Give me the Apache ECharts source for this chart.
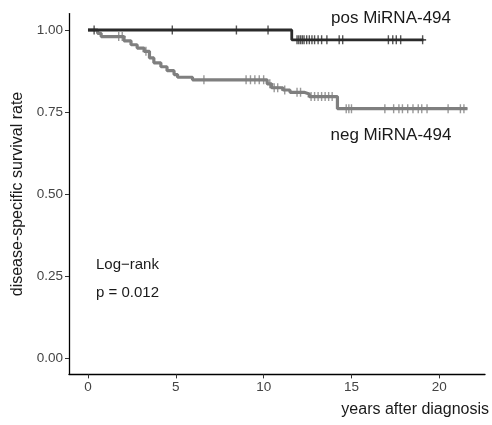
<!DOCTYPE html>
<html>
<head>
<meta charset="utf-8">
<script src="https://cdn.jsdelivr.net/npm/echarts@6/dist/echarts.min.js"></script>
<style>
  html, body { margin: 0; padding: 0; background: #fff; }
</style>
</head>
<body>
<div id="km" style="width: 492px;height: 425px;"></div>
<script>
// step curves (time in years, survival)
const posTime = [0, 11.6, 19.1]
const posSurv = [1.0, 0.97, 0.97]
const negTime = [0, 0.55, 0.75, 2.05, 2.45, 2.8, 3.2, 3.5, 3.75, 4.15, 4.5, 4.9, 5.1, 5.95, 10.2, 10.45, 11.1, 11.5, 12.3, 12.6, 14.2, 21.6]
const negSurv = [1.0, 0.99, 0.98, 0.967, 0.955, 0.945, 0.935, 0.915, 0.9, 0.888, 0.876, 0.864, 0.856, 0.848, 0.836, 0.824, 0.817, 0.81, 0.805, 0.797, 0.76, 0.76]
// censored times
const posCensor = [0.35, 4.8, 8.45, 10.25, 11.9, 12.0, 12.1, 12.2, 12.3, 12.45, 12.6, 12.75, 12.9, 13.1, 13.3, 13.6, 14.3, 14.5, 17.1, 17.35, 17.55, 17.8, 19.05]
const negCensor = [1.75, 1.95, 3.3, 6.6, 9.0, 9.25, 9.5, 9.75, 10.0, 10.35, 10.6, 10.8, 11.2, 11.9, 12.1, 12.7, 12.9, 13.1, 13.3, 13.5, 13.7, 13.9, 14.7, 14.85, 15.0, 16.9, 17.4, 17.7, 17.9, 18.2, 18.5, 18.8, 19.0, 19.3, 20.5, 21.2, 21.4]
const xTicks = [0, 5, 10, 15, 20]
const yTicks = [0, 0.25, 0.5, 0.75, 1]

function survAt (times, surv, t) {
  let s = surv[0]
  for (let i = 0; i < times.length; i++) {
    if (times[i] <= t) s = surv[i]
  }
  return s
}
function pairs (times, surv) {
  return times.map((t, i) => [t, surv[i]])
}
function censorPts (ct, times, surv) {
  return ct.map(t => [t, survAt(times, surv, t)])
}

const font = 'Liberation Sans, Arial, sans-serif'
const plus = 'path://M4,0h2v4h4v2h-4v4h-2v-4h-4v-2h4z'
const posColor = '#2b2b2b'
const negColor = '#7f7f7f'

let myChart = echarts.init(document.getElementById('km'))
var option = {
  animation: false,
  textStyle: { fontFamily: font },
  grid: { left: 69, right: 7, top: 13.6, bottom: 50.6, outerBoundsMode: 'none', containLabel: false },
  xAxis: {
    type: 'value',
    min: -1.08,
    max: 22.6,
    splitLine: { show: false },
    axisLine: { onZero: false, lineStyle: { color: '#000', width: 1.3 } },
    axisTick: { customValues: xTicks, length: 4, lineStyle: { color: '#333' } },
    axisLabel: { customValues: xTicks, color: '#444', fontSize: 13.5, margin: 6 }
  },
  yAxis: {
    type: 'value',
    min: -0.05,
    max: 1.05,
    name: 'disease-specific survival rate',
    nameLocation: 'middle',
    nameRotate: 90,
    nameGap: 41,
    nameTextStyle: { color: '#1a1a1a', fontSize: 16 },
    splitLine: { show: false },
    axisLine: { show: true, onZero: false, lineStyle: { color: '#000', width: 1.3 } },
    axisTick: { show: true, customValues: yTicks, length: 4, lineStyle: { color: '#333' } },
    axisLabel: {
      customValues: yTicks, color: '#444', fontSize: 13.5, margin: 6,
      formatter: v => v.toFixed(2)
    }
  },
  graphic: [
    { type: 'text', x: 391, y: 18, style: { text: 'pos MiRNA-494', font: '17px ' + font, fill: '#1a1a1a', align: 'center', verticalAlign: 'middle' } },
    { type: 'text', x: 391, y: 135, style: { text: 'neg MiRNA-494', font: '17px ' + font, fill: '#1a1a1a', align: 'center', verticalAlign: 'middle' } },
    { type: 'text', x: 96, y: 265, style: { text: 'Log\u2212rank', font: '15px ' + font, fill: '#1a1a1a', verticalAlign: 'middle' } },
    { type: 'text', x: 96, y: 293, style: { text: 'p = 0.012', font: '15px ' + font, fill: '#1a1a1a', verticalAlign: 'middle' } },
    { type: 'text', x: 489, y: 410, style: { text: 'years after diagnosis', font: '16px ' + font, fill: '#1a1a1a', align: 'right', verticalAlign: 'middle' } }
  ],
  series: [
    {
      name: 'neg MiRNA-494',
      type: 'line',
      step: 'end',
      data: pairs(negTime, negSurv),
      showSymbol: false,
      lineStyle: { color: negColor, width: 3.2 },
      z: 2
    },
    {
      name: 'neg censor',
      type: 'scatter',
      data: censorPts(negCensor, negTime, negSurv),
      symbol: plus,
      symbolSize: [7, 9],
      itemStyle: { color: negColor },
      z: 3
    },
    {
      name: 'pos MiRNA-494',
      type: 'line',
      step: 'end',
      data: pairs(posTime, posSurv),
      showSymbol: false,
      lineStyle: { color: posColor, width: 2.8 },
      z: 4
    },
    {
      name: 'pos censor',
      type: 'scatter',
      data: censorPts(posCensor, posTime, posSurv),
      symbol: plus,
      symbolSize: [7, 9],
      itemStyle: { color: posColor },
      z: 5
    }
  ]
}
myChart.setOption(option, true)
</script>
</body>
</html>
